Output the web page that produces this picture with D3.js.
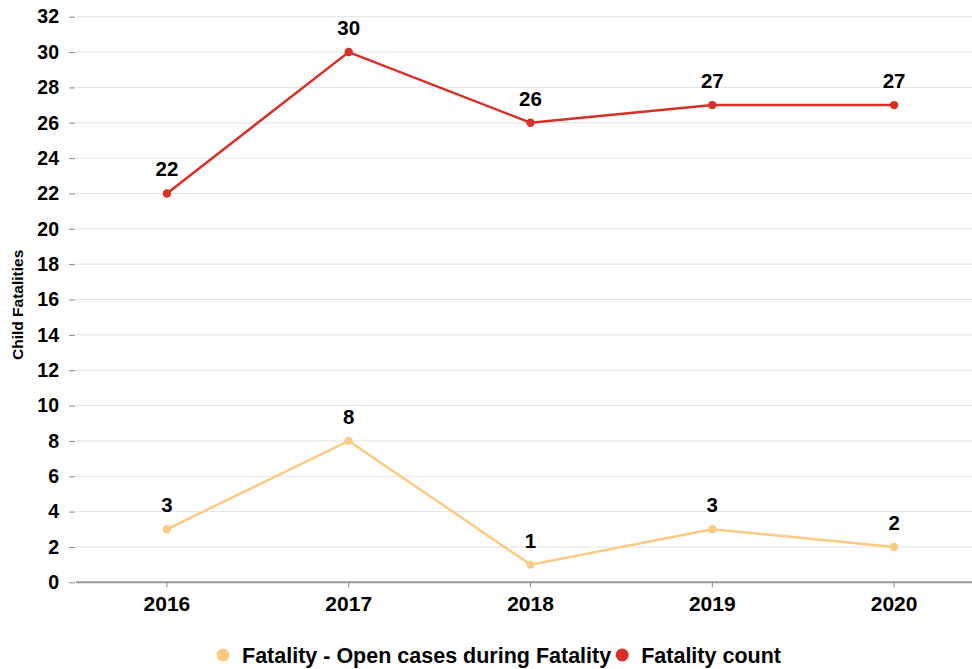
<!DOCTYPE html>
<html>
<head>
<meta charset="utf-8">
<script src="https://cdn.jsdelivr.net/npm/d3@7"></script>
<style>
  body { margin: 0; background: #fff; }
  svg text { font-family: "Liberation Sans", Arial, sans-serif; font-weight: bold; fill: #000; }
</style>
</head>
<body>
<svg id="chart" width="972" height="669"></svg>
<script>
// Chart data
const years = ['2016', '2017', '2018', '2019', '2020'];
const openCases = [3, 8, 1, 3, 2];
const fatalityCount = [22, 30, 26, 27, 27];
const yTicks = d3.range(0, 34, 2);

const seriesNames = ['Fatality - Open cases during Fatality', 'Fatality count'];
const seriesColors = ['#fdc983', '#d73027'];
const seriesValues = [openCases, fatalityCount];

const svg = d3.select('#chart');
const width = 972;

// Scales
const x = d3.scaleBand().domain(years).range([76, 985]);
const y = d3.scaleLinear().domain([0, 32]).range([582.3, 16.7]);

// Gridlines
svg.append('g')
    .selectAll('line')
    .data(yTicks.slice(1))
    .enter()
    .append('line')
    .attr('x1', 76)
    .attr('x2', width)
    .attr('y1', d => y(d))
    .attr('y2', d => y(d))
    .attr('stroke', '#e3e3e3')
    .attr('stroke-width', 1);

// Y axis
const yAxis = svg.append('g')
    .attr('transform', 'translate(75,0)')
    .call(d3.axisLeft(y).tickValues(yTicks).tickSize(6).tickPadding(10));
yAxis.select('.domain').remove();
yAxis.selectAll('.tick line').attr('stroke', '#888');
yAxis.selectAll('.tick text')
    .attr('font-size', 19.5)
    .style('font-family', '"Liberation Sans", Arial, sans-serif')
    .style('font-weight', 'bold')
    .attr('fill', '#000');

// X axis
const xAxis = svg.append('g')
    .attr('transform', 'translate(0,582.3)')
    .call(d3.axisBottom(x).tickSize(5).tickPadding(9).tickSizeOuter(0));
xAxis.select('.domain').attr('stroke', '#999').attr('stroke-width', 2)
    .attr('d', `M76,0H${width}`);
xAxis.selectAll('.tick line').attr('stroke', '#888');
xAxis.selectAll('.tick text')
    .attr('font-size', 21)
    .style('font-family', '"Liberation Sans", Arial, sans-serif')
    .style('font-weight', 'bold')
    .attr('fill', '#000');

// Y axis title
svg.append('text')
    .attr('transform', `translate(23,${y(15.7)}) rotate(-90)`)
    .attr('text-anchor', 'middle')
    .attr('font-size', 15.5)
    .text('Child Fatalities');

// Lines, points and labels
const cx = d => x(d) + x.bandwidth() / 2;
const line = d3.line().x(d => cx(d.year)).y(d => y(d.value));

seriesValues.forEach((vals, s) => {
    const pts = years.map((yr, i) => ({ year: yr, value: vals[i] }));
    const g = svg.append('g');
    g.append('path')
        .datum(pts)
        .attr('d', line)
        .attr('fill', 'none')
        .attr('stroke', seriesColors[s])
        .attr('stroke-width', 2.5);
    g.selectAll('circle')
        .data(pts)
        .enter()
        .append('circle')
        .attr('cx', d => cx(d.year))
        .attr('cy', d => y(d.value))
        .attr('r', 4.2)
        .attr('fill', seriesColors[s]);
    g.selectAll('text')
        .data(pts)
        .enter()
        .append('text')
        .attr('x', d => cx(d.year))
        .attr('y', d => y(d.value) - 17)
        .attr('text-anchor', 'middle')
        .attr('font-size', 20.5)
        .text(d => d.value);
});

// Legend
const legend = svg.append('g').attr('transform', 'translate(0,655)');
let lx = 223;
seriesNames.forEach((name, s) => {
    legend.append('circle')
        .attr('cx', lx)
        .attr('cy', 0)
        .attr('r', 6.5)
        .attr('fill', seriesColors[s]);
    const t = legend.append('text')
        .attr('x', lx + 19)
        .attr('y', 7.5)
        .attr('font-size', 21.5)
        .text(name);
    lx += 19 + t.node().getComputedTextLength() + 11;
});
</script>
</body>
</html>
